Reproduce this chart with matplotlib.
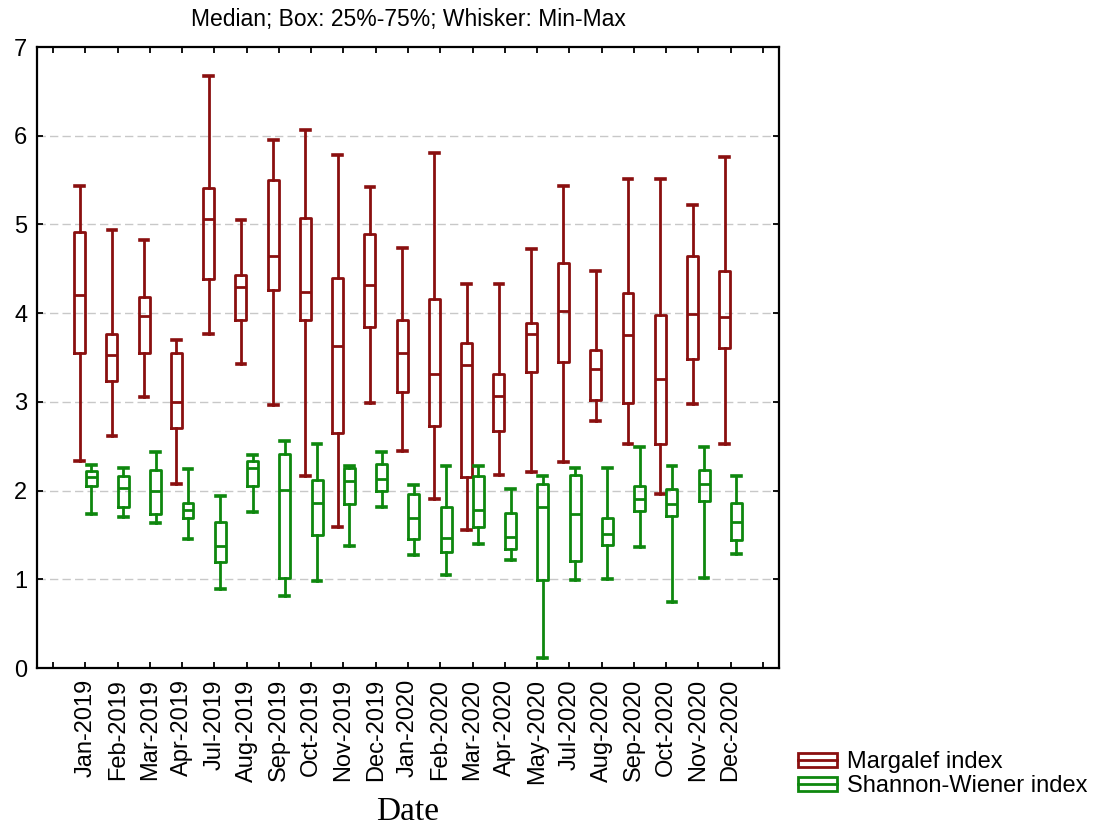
import matplotlib.pyplot as plt
import numpy as np
from matplotlib.legend_handler import HandlerBase
from matplotlib.patches import Rectangle
from matplotlib.lines import Line2D

plt.rcParams['font.family'] = ['Liberation Sans', 'DejaVu Sans']

dates = ["Jan-2019", "Feb-2019", "Mar-2019", "Apr-2019", "Jul-2019", "Aug-2019",
         "Sep-2019", "Oct-2019", "Nov-2019", "Dec-2019", "Jan-2020", "Feb-2020",
         "Mar-2020", "Apr-2020", "May-2020", "Jul-2020", "Aug-2020", "Sep-2020",
         "Oct-2020", "Nov-2020", "Dec-2020"]

# Margalef index
marg_min = [2.33, 2.61, 3.06, 2.08, 3.77, 3.43, 2.97, 2.16, 1.59, 2.99,
            2.45, 1.91, 1.56, 2.18, 2.21, 2.32, 2.78, 2.53, 1.96, 2.98, 2.53]
marg_q1 = [3.55, 3.23, 3.55, 2.71, 4.39, 3.92, 4.26, 3.92, 2.65, 3.84,
           3.11, 2.73, 2.15, 2.67, 3.34, 3.45, 3.02, 2.99, 2.52, 3.48, 3.61]
marg_med = [4.21, 3.53, 3.97, 3.00, 5.06, 4.29, 4.65, 4.24, 3.63, 4.32,
            3.55, 3.31, 3.42, 3.07, 3.76, 4.02, 3.37, 3.75, 3.26, 3.99, 3.96]
marg_q3 = [4.92, 3.76, 4.18, 3.55, 5.41, 4.43, 5.50, 5.07, 4.40, 4.89,
           3.92, 4.16, 3.66, 3.31, 3.89, 4.57, 3.58, 4.23, 3.98, 4.65, 4.48]
marg_max = [5.43, 4.94, 4.83, 3.70, 6.67, 5.05, 5.95, 6.06, 5.78, 5.42,
            4.73, 5.80, 4.33, 4.33, 4.72, 5.43, 4.48, 5.51, 5.51, 5.22, 5.76]

# Shannon-Wiener index
shan_min = [1.74, 1.70, 1.63, 1.45, 0.89, 1.76, 0.81, 0.98, 1.38, 1.81,
            1.27, 1.05, 1.40, 1.22, 0.11, 0.99, 1.00, 1.36, 0.74, 1.02, 1.28]
shan_q1 = [2.05, 1.82, 1.74, 1.69, 1.19, 2.05, 1.01, 1.50, 1.85, 2.00,
           1.45, 1.31, 1.59, 1.34, 0.99, 1.21, 1.39, 1.77, 1.71, 1.88, 1.44]
shan_med = [2.15, 2.03, 2.00, 1.78, 1.37, 2.26, 2.01, 1.86, 2.11, 2.13,
            1.69, 1.47, 1.78, 1.48, 1.81, 1.74, 1.51, 1.90, 1.85, 2.07, 1.65]
shan_q3 = [2.22, 2.17, 2.23, 1.86, 1.65, 2.33, 2.41, 2.12, 2.25, 2.30,
           1.96, 1.81, 2.16, 1.75, 2.08, 2.18, 1.69, 2.05, 2.02, 2.23, 1.86]
shan_max = [2.29, 2.25, 2.43, 2.24, 1.94, 2.40, 2.56, 2.53, 2.28, 2.43,
            2.06, 2.28, 2.28, 2.02, 2.17, 2.26, 2.26, 2.49, 2.28, 2.49, 2.17]

red = "#8a0f0f"
green = "#0e870e"


def make_stats(lo, q1, med, q3, hi):
    return [dict(whislo=a, q1=b, med=c, q3=d, whishi=e, fliers=[])
            for a, b, c, d, e in zip(lo, q1, med, q3, hi)]


class BoxHandler(HandlerBase):
    def create_artists(self, legend, orig_handle, xdescent, ydescent,
                       width, height, fontsize, trans):
        c = orig_handle.get_edgecolor()
        r = Rectangle((-xdescent, -ydescent), width, height, fill=False,
                      edgecolor=c, lw=2, transform=trans)
        ln = Line2D([-xdescent, -xdescent + width],
                    [-ydescent + height / 2] * 2, color=c, lw=2,
                    transform=trans)
        return [r, ln]


fig = plt.figure(figsize=(10.99, 8.34), dpi=100)
ax = fig.add_axes([0.0337, 0.199, 0.6751, 0.7446])

n = len(marg_med)
pos = np.arange(1, n + 1)

for stats, off, col in [(make_stats(marg_min, marg_q1, marg_med, marg_q3, marg_max), -0.18, red),
                        (make_stats(shan_min, shan_q1, shan_med, shan_q3, shan_max), 0.18, green)]:
    props = dict(color=col, lw=2)
    ax.bxp(stats, positions=pos + off, widths=0.34, capwidths=0.27,
           showfliers=False, manage_ticks=False,
           boxprops=props, whiskerprops=props, capprops=dict(color=col, lw=2.6),
           medianprops=props)

ax.set_xlim(-0.5, n + 1.5)
ax.set_ylim(0, 7)
ax.set_xticks(np.arange(0, n + 2))
ax.set_xticklabels([""] + dates + [""], rotation=90, fontsize=17)
ax.set_yticks(range(8))
ax.tick_params(axis="y", labelsize=17, pad=7)
ax.tick_params(direction="in", top=True, right=True, length=4, width=1.3)
ax.tick_params(axis="x", pad=8)

for y in range(1, 7):
    ax.axhline(y, color="#c8c8c8", lw=1, ls=(0, (6, 3)), zorder=0)

for s in ax.spines.values():
    s.set_linewidth(1.6)

ax.set_title("Median; Box: 25%-75%; Whisker: Min-Max", fontsize=16.5, pad=15)
ax.set_xlabel("Date", family=["Liberation Serif", "DejaVu Serif"], fontsize=24,
              labelpad=9)

handles = [Rectangle((0, 0), 1, 1, fill=False, edgecolor=red),
           Rectangle((0, 0), 1, 1, fill=False, edgecolor=green)]
fig.legend(handles, ["Margalef index", "Shannon-Wiener index"],
           handler_map={Rectangle: BoxHandler()}, loc="upper left",
           bbox_to_anchor=(0.726, 0.099), frameon=False, fontsize=17,
           handlelength=1.65, handleheight=0.55, labelspacing=0.08,
           handletextpad=0.42, borderaxespad=0, borderpad=0)

fig.savefig("out.png", dpi=100)
